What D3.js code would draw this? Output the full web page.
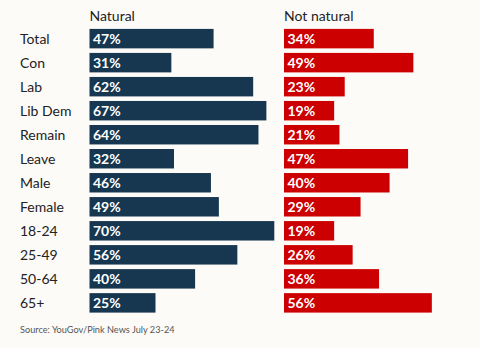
<!DOCTYPE html>
<html>
<head>
<meta charset="utf-8">
<script src="https://cdn.jsdelivr.net/npm/d3@7"></script>
<style>
  body { margin: 0; background: #fcfbf8; }
  svg { display: block; font-family: "Lato", "Open Sans", sans-serif; }
</style>
</head>
<body>
<div id="chart"></div>
<script>
const categories = ['Total', 'Con', 'Lab', 'Lib Dem', 'Remain', 'Leave', 'Male', 'Female', '18-24', '25-49', '50-64', '65+'];
const natural = [47, 31, 62, 67, 64, 32, 46, 49, 70, 56, 40, 25];
const notNatural = [34, 49, 23, 19, 21, 47, 40, 29, 19, 26, 36, 56];
const seriesNames = ['Natural', 'Not natural'];
const sourceText = 'Source: YouGov/Pink News July 23-24';

const width = 480, height = 348;
const colors = ['#17364f', '#cc0000'];

const svg = d3.select('#chart')
  .append('svg')
  .attr('width', width)
  .attr('height', height);

svg.append('rect')
  .attr('width', width)
  .attr('height', height)
  .attr('fill', '#fcfbf8');

// Rows
const y = d3.scaleBand()
  .domain(categories)
  .range([26.5, 315])
  .paddingInner(0.19)
  .paddingOuter(0.1);

// Both panels share the same percent-to-pixel ratio
const xNat = d3.scaleLinear().domain([0, 100]).range([89.5, 353.5]);
const xNot = d3.scaleLinear().domain([0, 100]).range([284, 548]);

// Category labels
svg.selectAll('.cat')
  .data(categories)
  .enter().append('text')
  .attr('class', 'cat')
  .attr('x', 20)
  .attr('y', d => y(d) + y.bandwidth() / 2)
  .attr('dy', '.36em')
  .style('font-size', '14px')
  .style('fill', '#222')
  .text(d => d);

const panels = [
  { name: seriesNames[0], values: natural, x: xNat, color: colors[0] },
  { name: seriesNames[1], values: notNatural, x: xNot, color: colors[1] }
];

panels.forEach(p => {
  // Header
  svg.append('text')
    .attr('x', p.x(0))
    .attr('y', 21)
    .style('font-size', '14px')
    .style('fill', '#222')
    .text(p.name);

  const g = svg.append('g');

  g.selectAll('rect')
    .data(p.values)
    .enter().append('rect')
    .attr('x', p.x(0))
    .attr('y', (d, i) => y(categories[i]))
    .attr('width', d => p.x(d) - p.x(0))
    .attr('height', y.bandwidth())
    .attr('fill', p.color);

  g.selectAll('text')
    .data(p.values)
    .enter().append('text')
    .attr('x', p.x(0) + 3.5)
    .attr('y', (d, i) => y(categories[i]) + y.bandwidth() / 2)
    .attr('dy', '.37em')
    .style('font-size', '14px')
    .style('font-weight', '700')
    .style('fill', 'white')
    .text(d => d + '%');
});

// Source note
svg.append('text')
  .attr('x', 20)
  .attr('y', 333)
  .style('font-size', '9.2px')
  .style('fill', '#555')
  .text(sourceText);
</script>
</body>
</html>
